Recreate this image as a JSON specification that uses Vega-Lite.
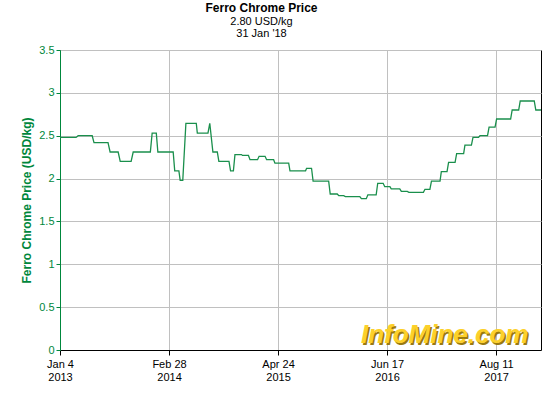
{
  "$schema": "https://vega.github.io/schema/vega-lite/v6.json",
  "autosize": {"type": "none"},
  "padding": {"left": 60, "top": 50, "right": 19, "bottom": 50},
  "width": 481,
  "height": 300,
  "background": "white",
  "config": {
    "font": "Liberation Sans",
    "view": {"stroke": "black", "strokeWidth": 1},
    "axis": {"gridColor": "#c0c0c0", "gridWidth": 1, "gridOpacity": 1, "labelFont": "Liberation Sans", "titleFont": "Liberation Sans"}
  },
  "title": {
    "text": "Ferro Chrome Price",
    "subtitle": ["2.80 USD/kg", "31 Jan '18"],
    "anchor": "middle",
    "frame": "group",
    "dx": -39,
    "offset": 4,
    "font": "Liberation Sans",
    "fontSize": 12,
    "fontWeight": "bold",
    "color": "#000000",
    "subtitleFont": "Liberation Sans",
    "subtitleFontSize": 11,
    "subtitleColor": "#000000",
    "subtitlePadding": 1,
    "subtitleLineHeight": 12
  },
  "layer": [
    {
      "data": {"values": [
        {"date": "2013-01-04", "price": 2.48},
        {"date": "2013-03-07", "price": 2.48},
        {"date": "2013-03-15", "price": 2.50},
        {"date": "2013-05-08", "price": 2.50},
        {"date": "2013-05-15", "price": 2.42},
        {"date": "2013-07-08", "price": 2.42},
        {"date": "2013-07-16", "price": 2.31},
        {"date": "2013-08-16", "price": 2.31},
        {"date": "2013-08-24", "price": 2.20},
        {"date": "2013-10-05", "price": 2.20},
        {"date": "2013-10-13", "price": 2.31},
        {"date": "2013-12-18", "price": 2.31},
        {"date": "2013-12-25", "price": 2.53},
        {"date": "2014-01-10", "price": 2.53},
        {"date": "2014-01-16", "price": 2.31},
        {"date": "2014-03-16", "price": 2.31},
        {"date": "2014-03-22", "price": 2.09},
        {"date": "2014-04-07", "price": 2.09},
        {"date": "2014-04-12", "price": 1.98},
        {"date": "2014-04-22", "price": 1.98},
        {"date": "2014-05-04", "price": 2.645},
        {"date": "2014-06-13", "price": 2.645},
        {"date": "2014-06-17", "price": 2.53},
        {"date": "2014-07-28", "price": 2.53},
        {"date": "2014-08-04", "price": 2.645},
        {"date": "2014-08-16", "price": 2.31},
        {"date": "2014-09-02", "price": 2.31},
        {"date": "2014-09-08", "price": 2.20},
        {"date": "2014-10-17", "price": 2.20},
        {"date": "2014-10-23", "price": 2.09},
        {"date": "2014-11-03", "price": 2.09},
        {"date": "2014-11-09", "price": 2.28},
        {"date": "2014-12-04", "price": 2.28},
        {"date": "2014-12-08", "price": 2.27},
        {"date": "2014-12-31", "price": 2.27},
        {"date": "2015-01-06", "price": 2.22},
        {"date": "2015-02-04", "price": 2.22},
        {"date": "2015-02-10", "price": 2.26},
        {"date": "2015-03-05", "price": 2.26},
        {"date": "2015-03-11", "price": 2.22},
        {"date": "2015-04-07", "price": 2.22},
        {"date": "2015-04-12", "price": 2.18},
        {"date": "2015-06-04", "price": 2.18},
        {"date": "2015-06-09", "price": 2.09},
        {"date": "2015-08-08", "price": 2.09},
        {"date": "2015-08-12", "price": 2.12},
        {"date": "2015-08-31", "price": 2.12},
        {"date": "2015-09-06", "price": 1.97},
        {"date": "2015-11-05", "price": 1.97},
        {"date": "2015-11-11", "price": 1.82},
        {"date": "2015-12-08", "price": 1.82},
        {"date": "2015-12-14", "price": 1.80},
        {"date": "2016-01-02", "price": 1.80},
        {"date": "2016-01-08", "price": 1.79},
        {"date": "2016-03-04", "price": 1.79},
        {"date": "2016-03-10", "price": 1.765},
        {"date": "2016-03-29", "price": 1.765},
        {"date": "2016-04-04", "price": 1.81},
        {"date": "2016-05-06", "price": 1.81},
        {"date": "2016-05-12", "price": 1.945},
        {"date": "2016-06-02", "price": 1.945},
        {"date": "2016-06-08", "price": 1.905},
        {"date": "2016-06-28", "price": 1.905},
        {"date": "2016-07-03", "price": 1.88},
        {"date": "2016-08-05", "price": 1.88},
        {"date": "2016-08-11", "price": 1.85},
        {"date": "2016-09-03", "price": 1.85},
        {"date": "2016-09-09", "price": 1.84},
        {"date": "2016-11-04", "price": 1.84},
        {"date": "2016-11-10", "price": 1.875},
        {"date": "2016-11-29", "price": 1.875},
        {"date": "2016-12-05", "price": 1.97},
        {"date": "2017-01-07", "price": 1.97},
        {"date": "2017-01-12", "price": 2.08},
        {"date": "2017-02-03", "price": 2.08},
        {"date": "2017-02-09", "price": 2.19},
        {"date": "2017-03-06", "price": 2.19},
        {"date": "2017-03-12", "price": 2.29},
        {"date": "2017-04-08", "price": 2.29},
        {"date": "2017-04-13", "price": 2.39},
        {"date": "2017-05-08", "price": 2.39},
        {"date": "2017-05-14", "price": 2.48},
        {"date": "2017-06-04", "price": 2.48},
        {"date": "2017-06-10", "price": 2.50},
        {"date": "2017-07-09", "price": 2.50},
        {"date": "2017-07-15", "price": 2.60},
        {"date": "2017-08-07", "price": 2.60},
        {"date": "2017-08-13", "price": 2.695},
        {"date": "2017-10-06", "price": 2.695},
        {"date": "2017-10-12", "price": 2.80},
        {"date": "2017-11-06", "price": 2.80},
        {"date": "2017-11-12", "price": 2.905},
        {"date": "2018-01-05", "price": 2.905},
        {"date": "2018-01-11", "price": 2.80},
        {"date": "2018-01-31", "price": 2.80}
      ]},
      "mark": {"type": "line", "color": "#1a8f4c", "strokeWidth": 1.3, "clip": true},
      "encoding": {
        "x": {
          "field": "date",
          "type": "temporal",
          "scale": {"type": "utc", "domain": [{"year": 2013, "month": 1, "date": 4, "utc": true}, {"year": 2018, "month": 1, "date": 31, "utc": true}], "nice": false},
          "axis": {
            "title": null,
            "values": [
              {"year": 2013, "month": 1, "date": 4, "utc": true},
              {"year": 2014, "month": 2, "date": 28, "utc": true},
              {"year": 2015, "month": 4, "date": 24, "utc": true},
              {"year": 2016, "month": 6, "date": 17, "utc": true},
              {"year": 2017, "month": 8, "date": 11, "utc": true}
            ],
            "labelExpr": "[utcFormat(datum.value, '%b %-d'), utcFormat(datum.value, '%Y')]",
            "labelLineHeight": 13,
            "labelFontSize": 11,
            "labelColor": "#000000",
            "labelPadding": 3,
            "labelFlush": false,
            "labelOverlap": false,
            "domainColor": "#000000",
            "tickColor": "#000000",
            "tickSize": 5,
            "grid": true
          }
        },
        "y": {
          "field": "price",
          "type": "quantitative",
          "scale": {"domain": [0, 3.5], "nice": false, "zero": true},
          "axis": {
            "title": "Ferro Chrome Price (USD/kg)",
            "titleColor": "#00873c",
            "titleFontSize": 12,
            "titleFontWeight": "bold",
            "titlePadding": 5,
            "values": [0, 0.5, 1, 1.5, 2, 2.5, 3, 3.5],
            "format": "~g",
            "labelColor": "#00873c",
            "labelFontSize": 11,
            "labelPadding": 2,
            "domainColor": "#00873c",
            "tickColor": "#00873c",
            "tickSize": 4,
            "grid": true
          }
        }
      }
    },
    {
      "data": {"values": [{"label": "InfoMine.com"}]},
      "mark": {"type": "text", "font": "Liberation Sans", "fontSize": 26, "fontWeight": "bold", "fontStyle": "italic", "align": "center", "baseline": "alphabetic", "fill": "#9a7a10", "dx": 1.5, "dy": 1.5},
      "encoding": {
        "x": {"datum": {"year": 2017, "month": 1, "date": 25, "utc": true}, "type": "temporal"},
        "y": {"datum": 0.08, "type": "quantitative"},
        "text": {"field": "label"}
      }
    },
    {
      "data": {"values": [{"label": "InfoMine.com"}]},
      "mark": {"type": "text", "font": "Liberation Sans", "fontSize": 26, "fontWeight": "bold", "fontStyle": "italic", "align": "center", "baseline": "alphabetic", "fill": "#fcd02a"},
      "encoding": {
        "x": {"datum": {"year": 2017, "month": 1, "date": 25, "utc": true}, "type": "temporal"},
        "y": {"datum": 0.08, "type": "quantitative"},
        "text": {"field": "label"}
      }
    }
  ]
}
